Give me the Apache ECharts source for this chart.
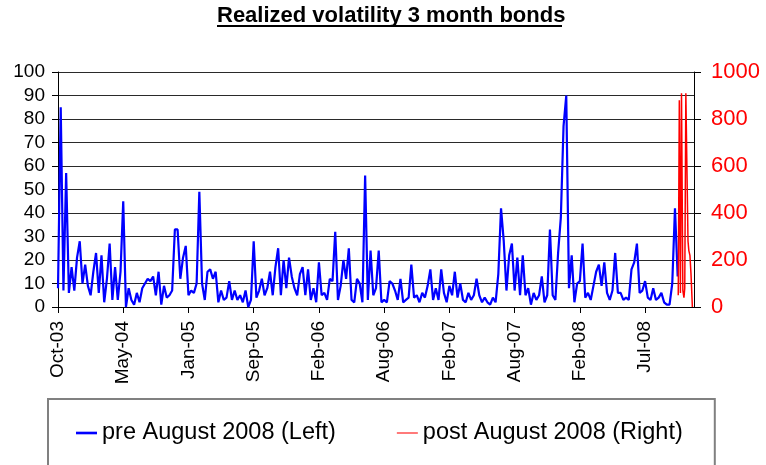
<!DOCTYPE html>
<html>
<head>
<meta charset="utf-8">
<script src="https://cdn.jsdelivr.net/npm/echarts@6/dist/echarts.min.js"></script>
<style>
  html, body { margin: 0; padding: 0; background: #fff; }
  #chart { width: 766px; height: 465px; }
</style>
</head>
<body>
<div id="chart"></div>
<script>
// tick labels, one every 24 trading days
const dateLabels = ["Oct-03", "May-04", "Jan-05", "Sep-05", "Feb-06", "Aug-06", "Feb-07", "Aug-07", "Feb-08", "Jul-08"];

// pre August 2008, left axis (one value per trading-day step, starting at day 0)
const preValues = [
  8, 85, 7, 57, 6, 17, 7, 21, 28, 10,
  18, 9, 5, 15, 23, 6, 22, 2, 12, 27,
  3, 17, 3, 15, 45, 0, 8, 3, 1, 6,
  2, 8, 10, 12, 11, 13, 5, 15, 1, 9,
  4, 5, 7, 33, 33, 12, 21, 26, 5, 7,
  6, 10, 49, 10, 3, 15, 16, 12, 15, 2,
  7, 3, 4, 11, 3, 7, 3, 5, 2, 7,
  0, 3, 28, 4, 7, 12, 5, 8, 15, 5,
  17, 25, 5, 20, 8, 21, 13, 8, 5, 14,
  17, 5, 16, 3, 8, 2, 19, 5, 6, 3,
  12, 11, 32, 3, 9, 20, 12, 25, 3, 2,
  12, 10, 2, 56, 3, 24, 5, 8, 24, 2,
  3, 2, 11, 10, 7, 3, 12, 2, 3, 4,
  18, 4, 5, 2, 6, 4, 9, 16, 3, 8,
  3, 16, 6, 2, 9, 5, 15, 4, 10, 3,
  2, 6, 3, 5, 12, 5, 2, 4, 2, 1,
  4, 2, 14, 42, 28, 7, 22, 27, 7, 21,
  5, 22, 5, 8, 1, 6, 3, 5, 13, 2,
  5, 33, 5, 3, 23, 38, 77, 90, 8, 22,
  2, 10, 11, 27, 4, 6, 3, 9, 15, 18,
  9, 19, 6, 3, 7, 23, 6, 6, 3, 4,
  3, 16, 19, 27, 6, 7, 11, 4, 3, 8,
  3, 4, 6, 2, 1, 1, 10, 42, 13
];

// post August 2008, right axis
const postDays = [228.2, 228.6, 229.0, 229.4, 229.9, 230.3, 230.6, 231.0, 231.4, 231.8, 232.1, 232.5, 232.9, 233.4];
const postValues = [50, 880, 60, 910, 70, 40, 80, 910, 590, 280, 240, 220, 140, 0];

const FONT = "'Liberation Sans', Arial, sans-serif";

const chart = echarts.init(document.getElementById("chart"));

const option = {
  animation: false,
  backgroundColor: "#fff",
  title: {
    text: "Realized volatility 3 month bonds",
    left: 217,
    top: 5,
    padding: 0,
    textStyle: { fontFamily: FONT, fontSize: 22, fontWeight: "bold", color: "#000" },
  },
  graphic: [
    {
      type: "line",
      shape: { x1: 217, y1: 26, x2: 562, y2: 26 },
      style: { stroke: "#000", lineWidth: 2 },
    },
  ],
  grid: { left: 58, right: 72, top: 72, bottom: 158 },
  legend: {
    left: 48,
    top: 399,
    padding: [22, 32, 50, 28],
    borderColor: "#808080",
    borderWidth: 2,
    itemWidth: 21,
    itemHeight: 14,
    itemGap: 61,
    textStyle: { fontFamily: FONT, fontSize: 23.5, color: "#000" },
    data: [
      { name: "pre August 2008 (Left)", icon: "path://M0,0H20V2.5H0Z" },
      { name: "post August 2008 (Right)", icon: "path://M0,0H20V1H0Z" },
    ],
  },
  xAxis: {
    type: "value",
    min: 0,
    max: 234,
    interval: 24,
    axisLine: { show: true, lineStyle: { color: "#000", width: 1 } },
    axisTick: { show: true, length: 6, lineStyle: { color: "#000" } },
    splitLine: { show: false },
    axisLabel: {
      rotate: 90,
      margin: 14,
      fontFamily: FONT,
      fontSize: 19,
      color: "#000",
      showMaxLabel: false,
      formatter: (v) => (v % 24 === 0 && dateLabels[v / 24]) ? dateLabels[v / 24] : "",
    },
  },
  yAxis: [
    {
      type: "value",
      min: 0,
      max: 100,
      interval: 10,
      axisLine: { show: true, lineStyle: { color: "#000" } },
      axisTick: { show: true, length: 6, lineStyle: { color: "#000" } },
      splitLine: { show: true, lineStyle: { color: "#2a2a2a", width: 1 } },
      axisLabel: { margin: 13, fontFamily: FONT, fontSize: 19, color: "#000" },
    },
    {
      type: "value",
      min: 0,
      max: 1000,
      interval: 200,
      position: "right",
      axisLine: { show: true, lineStyle: { color: "#000" } },
      axisTick: { show: true, length: 7, lineStyle: { color: "#000" } },
      splitLine: { show: false },
      axisLabel: {
        margin: 17,
        fontFamily: FONT,
        fontSize: 22,
        color: "#ff0000",
        formatter: (v) => String(v),
      },
    },
  ],
  series: [
    {
      name: "pre August 2008 (Left)",
      type: "line",
      yAxisIndex: 0,
      showSymbol: false,
      symbol: "none",
      color: "#0000ff",
      lineStyle: { color: "#0000ff", width: 2.2 },
      data: preValues.map((v, i) => [i, v]),
    },
    {
      name: "post August 2008 (Right)",
      type: "line",
      yAxisIndex: 1,
      showSymbol: false,
      symbol: "none",
      color: "#ff0000",
      lineStyle: { color: "#ff0000", width: 1.5 },
      data: postDays.map((d, i) => [d, postValues[i]]),
    },
  ],
};

chart.setOption(option);
</script>
</body>
</html>
